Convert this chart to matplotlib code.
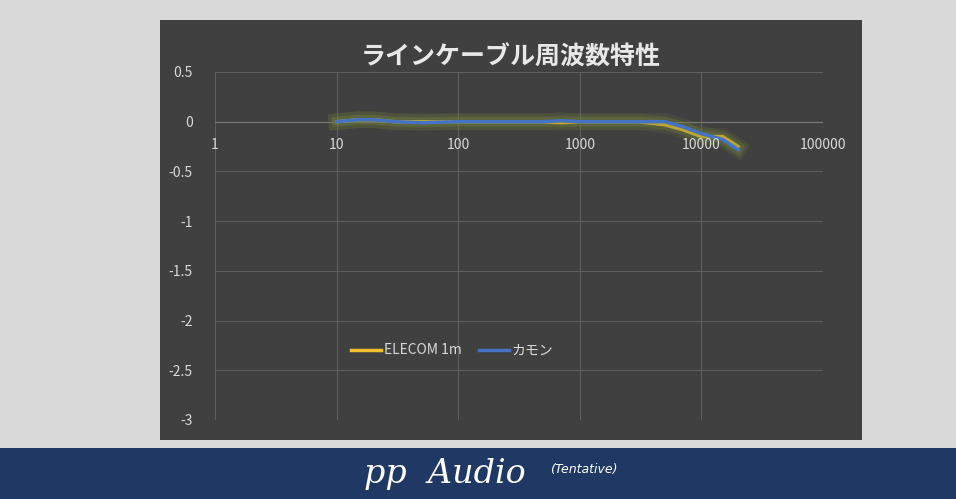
import matplotlib.pyplot as plt
import matplotlib.patheffects as pe
from matplotlib.patches import Rectangle
from matplotlib.lines import Line2D

plt.rcParams['font.family'] = ['Noto Sans CJK JP', 'DejaVu Sans']

freq = [10, 15, 20, 30, 50, 100, 200, 500, 700, 1000, 2000, 3000, 5000, 7000, 10000, 15000, 20000]
elecom = [0, 0.02, 0.02, 0, 0, 0, 0, 0, -0.01, 0, 0, 0, -0.03, -0.08, -0.15, -0.15, -0.25]
kamon = [0, 0.02, 0.02, 0, -0.01, 0, 0, 0, 0.01, 0, 0, 0, 0, -0.05, -0.12, -0.18, -0.28]
xticks = [1, 10, 100, 1000, 10000, 100000]
yticks = [0.5, 0, -0.5, -1, -1.5, -2, -2.5, -3]

fig = plt.figure(figsize=(9.56, 4.99), dpi=100)
fig.patch.set_facecolor('#d9d9d9')
# dark chart panel and bottom banner
fig.patches.append(Rectangle((160/956, 1-440/499), 702/956, 420/499, transform=fig.transFigure,
                             facecolor='#404040', zorder=-10))
fig.patches.append(Rectangle((0, 0), 1, 51/499, transform=fig.transFigure,
                             facecolor='#1f3864', zorder=-10))

ax = fig.add_axes([215/956, 1-420/499, 608/956, 348/499])
ax.set_zorder(5)
ax.set_facecolor('none')
ax.set_xscale('log')
ax.set_xlim(1, 100000)
ax.set_ylim(-3, 0.5)
ax.set_xticks(xticks)
ax.set_xticklabels([])
ax.set_yticks(yticks)
ax.set_yticklabels([f'{t:g}' for t in yticks])
ax.minorticks_off()
ax.grid(True, color='#5e5e5e', lw=0.8)
for s in ax.spines.values():
    s.set_visible(False)
ax.axhline(0, color='#7a7a7a', lw=0.8)
ax.tick_params(length=0, colors='#d9d9d9', labelsize=10)
ax.tick_params(axis='y', pad=16)

# x labels sit just under the y=0 axis line
for t in xticks:
    ax.annotate(str(t), (t, 0), xytext=(0, -17), textcoords='offset points',
                ha='center', va='center', color='#d9d9d9', fontsize=10)

glow = [pe.Stroke(linewidth=12, foreground='#6f7d3c', alpha=0.18),
        pe.Stroke(linewidth=7, foreground='#6f7d3c', alpha=0.25), pe.Normal()]
ax.plot(freq, elecom, color='#f2c12e', lw=2.5, path_effects=glow)
ax.plot(freq, kamon, color='#4472c4', lw=2.5, path_effects=glow)

handles = [Line2D([], [], color='#f2c12e', lw=2.5), Line2D([], [], color='#4472c4', lw=2.5)]
ax.legend(handles, ['ELECOM 1m', 'カモン'], loc='center', bbox_to_anchor=(0.39, 0.2), ncol=2,
          frameon=False, labelcolor='#d9d9d9', fontsize=10, handlelength=2.2,
          handletextpad=0.2, columnspacing=1.2)

fig.text(511/956, 1-58/499, 'ラインケーブル周波数特性', color='#e8e8e8', fontsize=18,
         fontweight='bold', ha='center', va='center')
fig.text(0.465, 1-474/499, 'pp  Audio', color='white', fontsize=24, style='italic',
         family=['DejaVu Serif'], ha='center', va='center')
fig.text(0.575, 1-470/499, '(Tentative)', color='white', fontsize=9, style='italic',
         family=['DejaVu Sans'], ha='left', va='center')

fig.savefig('out.png', dpi=100, facecolor=fig.get_facecolor())
